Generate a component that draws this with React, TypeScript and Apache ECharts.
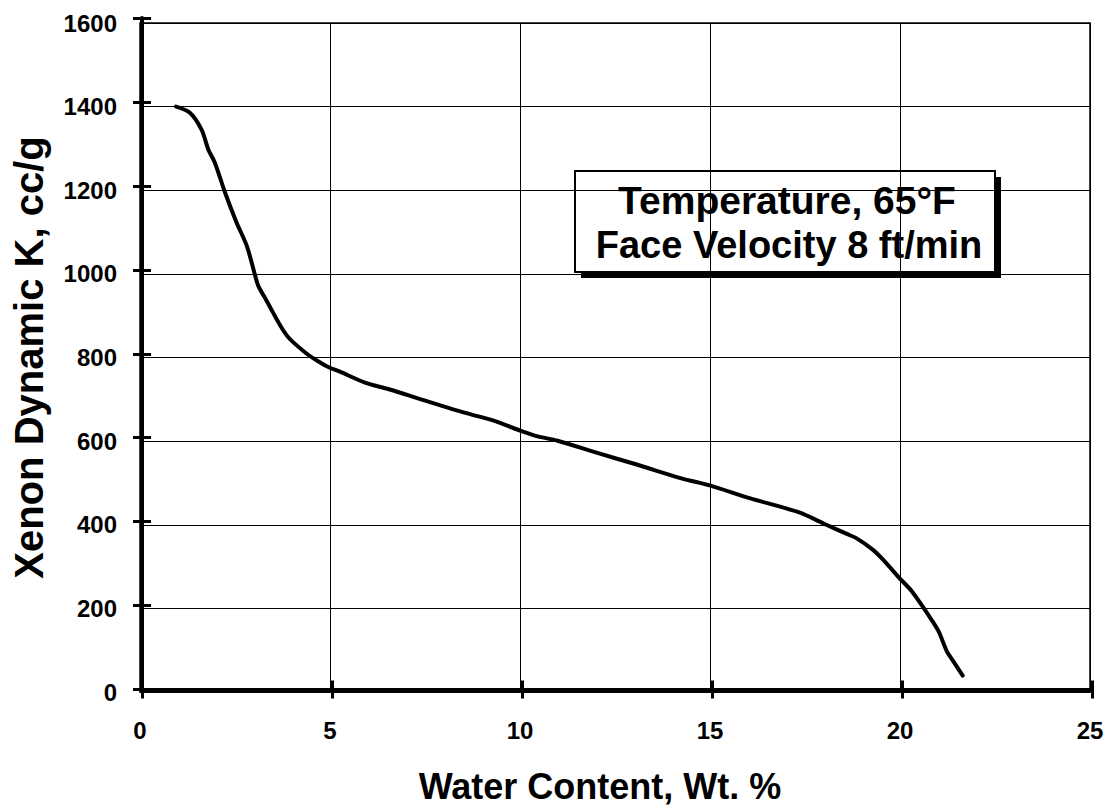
import React, { useEffect, useRef } from "react";
import * as echarts from "echarts";

// Water content (wt. %) and the matching xenon dynamic adsorption coefficient (cc/g)
const waterContent = [
  0.95, 1.32, 1.62, 1.8, 1.97, 2.24, 2.54, 2.81, 3.03, 3.11, 3.33, 3.86, 4.39,
  4.74, 4.98, 5.26, 5.92, 6.55, 7.46, 8.54, 9.27, 9.98, 10.44, 10.99, 11.99,
  13.07, 14.25, 14.99, 16.06, 17.33, 18.06, 18.6, 18.85, 19.29, 19.56, 19.98,
  20.31, 20.74, 21.01, 21.23, 21.4, 21.65,
];
const xenonK = [
  1400, 1385, 1345, 1297, 1266, 1194, 1123, 1067, 996, 972, 936, 853, 809, 788,
  776, 766, 740, 724, 698, 668, 650, 626, 612, 601, 573, 544, 511, 494, 463, 430,
  400, 378, 368, 340, 316, 273, 241, 185, 146, 98, 74, 39,
];

const xRange = { min: 0, max: 25, interval: 5 };
const yRange = { min: 0, max: 1600, interval: 200 };

const xTitle = "Water Content, Wt. %";
const yTitle = "Xenon Dynamic K, cc/g";
const noteLines = ["Temperature, 65°F", "Face Velocity 8 ft/min"];

const FONT = "'Liberation Sans', Arial, Helvetica, sans-serif";

export default function App() {
  const ref = useRef<HTMLDivElement>(null);

  useEffect(() => {
    if (!ref.current) return;
    const chart = echarts.init(ref.current, undefined, { renderer: "svg" });

    const mainGrid = { left: 140, top: 23, width: 950, height: 671.5 };
    // The heavy axis frame sits slightly offset from the plotting grid
    const frameGrid = { left: 142, top: 18, width: 950, height: 671.5 };

    const label = {
      color: "#000",
      fontSize: 24,
      fontWeight: "bold" as const,
      fontFamily: FONT,
      formatter: (v: number) => String(v),
    };
    const thin = { color: "#000", width: 1 };

    const frameAxis = (grid: number, inside: boolean, range: any) => ({
      type: "value" as const,
      gridIndex: grid,
      ...range,
      axisLine: {
        show: !inside,
        onZero: false,
        lineStyle: { color: "#000", width: 4 },
      },
      axisTick: {
        show: true,
        inside,
        length: 9,
        lineStyle: { color: "#000", width: 3 },
      },
      axisLabel: { show: false },
      splitLine: { show: false },
    });

    chart.setOption({
      animation: false,
      backgroundColor: "#fff",
      grid: [
        {
          ...mainGrid,
          show: true,
          borderColor: "#000",
          borderWidth: 1.5,
          backgroundColor: "transparent",
        },
        { ...frameGrid },
        { ...frameGrid },
      ],
      xAxis: [
        {
          type: "value",
          gridIndex: 0,
          ...xRange,
          axisLine: { show: true, onZero: false, lineStyle: thin },
          axisTick: { show: false },
          splitLine: { show: true, lineStyle: thin },
          axisLabel: { ...label, margin: 26 },
          name: xTitle,
          nameLocation: "middle",
          nameGap: 76,
          nameTextStyle: {
            color: "#000",
            fontSize: 36,
            fontWeight: "bold",
            fontFamily: FONT,
            padding: [0, 30, 0, 0],
          },
        },
        frameAxis(1, false, xRange),
        frameAxis(2, true, xRange),
      ],
      yAxis: [
        {
          type: "value",
          gridIndex: 0,
          ...yRange,
          axisLine: { show: true, onZero: false, lineStyle: thin },
          axisTick: { show: false },
          splitLine: { show: true, lineStyle: thin },
          axisLabel: { ...label, margin: 23 },
          name: yTitle,
          nameLocation: "middle",
          nameRotate: 90,
          nameGap: 91,
          nameTextStyle: {
            color: "#000",
            fontSize: 40,
            fontWeight: "bold",
            fontFamily: FONT,
          },
        },
        frameAxis(1, false, yRange),
        frameAxis(2, true, yRange),
      ],
      series: [
        {
          type: "line",
          xAxisIndex: 0,
          yAxisIndex: 0,
          data: waterContent.map((w, i) => [w, xenonK[i]]),
          showSymbol: false,
          smooth: 0.3,
          lineStyle: { color: "#000", width: 4, cap: "round", join: "round" },
          z: 5,
        },
      ],
      graphic: [
        {
          type: "group",
          z: 100,
          children: [
            {
              type: "rect",
              shape: { x: 581, y: 177, width: 420, height: 101 },
              style: { fill: "#000" },
            },
            {
              type: "rect",
              shape: { x: 575, y: 171, width: 420, height: 101 },
              style: { fill: "#fff", stroke: "#000", lineWidth: 2 },
            },
            {
              type: "text",
              x: 787,
              y: 200,
              style: {
                text: noteLines[0],
                fill: "#000",
                font: `bold 39px ${FONT}`,
                align: "center",
                verticalAlign: "middle",
              },
            },
            {
              type: "text",
              x: 789,
              y: 245,
              style: {
                text: noteLines[1],
                fill: "#000",
                font: `bold 38px ${FONT}`,
                align: "center",
                verticalAlign: "middle",
              },
            },
          ],
        },
      ],
    });

    return () => chart.dispose();
  }, []);

  return (
    <div
      ref={ref}
      style={{
        position: "fixed",
        left: 0,
        top: 0,
        width: 1107,
        height: 809,
        background: "#fff",
      }}
    />
  );
}
